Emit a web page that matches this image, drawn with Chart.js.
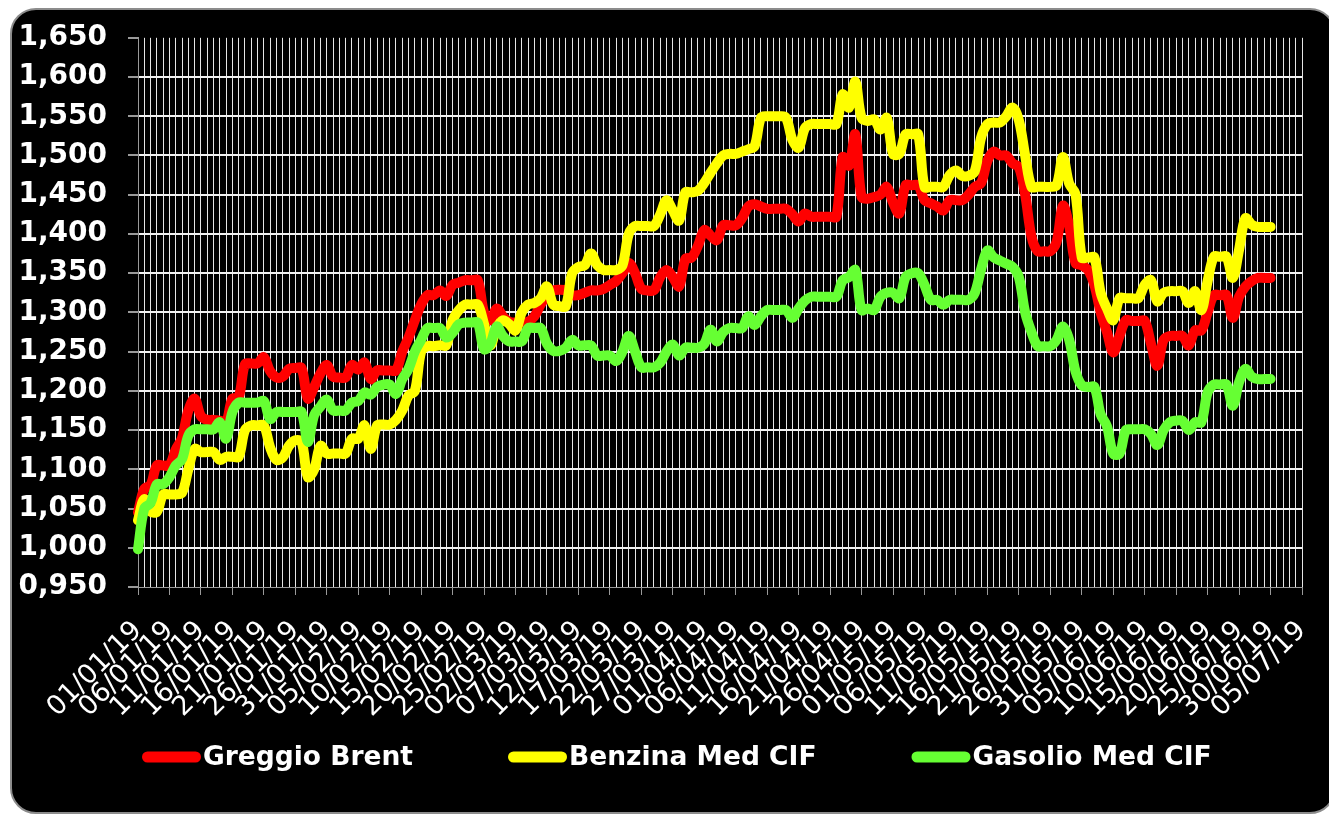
<!DOCTYPE html>
<html>
<head>
<meta charset="utf-8">
<title>Greggio Brent, Benzina e Gasolio Med CIF</title>
<script src="https://cdn.jsdelivr.net/npm/chart.js@4.4.1/dist/chart.umd.min.js"></script>
<style>
  html, body { margin: 0; padding: 0; background: #fff; overflow: hidden; }
  #frame {
    position: absolute; left: 10px; top: 8px; width: 1326px; height: 806px;
    box-sizing: border-box; background: #000;
    border: 2px solid #8c8c8c; border-radius: 26px;
  }
  #chart { position: absolute; left: 0; top: 0; }
</style>
</head>
<body>
<div id="frame"></div>
<canvas id="chart" width="1329" height="814"></canvas>
<script>
// daily dates, 01/01/19 .. 05/07/19 (labels shown every 5 days)
const dates = [
  '01/01/19','02/01/19','03/01/19','04/01/19','05/01/19','06/01/19','07/01/19','08/01/19','09/01/19','10/01/19',
  '11/01/19','12/01/19','13/01/19','14/01/19','15/01/19','16/01/19','17/01/19','18/01/19','19/01/19','20/01/19',
  '21/01/19','22/01/19','23/01/19','24/01/19','25/01/19','26/01/19','27/01/19','28/01/19','29/01/19','30/01/19','31/01/19',
  '01/02/19','02/02/19','03/02/19','04/02/19','05/02/19','06/02/19','07/02/19','08/02/19','09/02/19','10/02/19',
  '11/02/19','12/02/19','13/02/19','14/02/19','15/02/19','16/02/19','17/02/19','18/02/19','19/02/19','20/02/19',
  '21/02/19','22/02/19','23/02/19','24/02/19','25/02/19','26/02/19','27/02/19','28/02/19',
  '01/03/19','02/03/19','03/03/19','04/03/19','05/03/19','06/03/19','07/03/19','08/03/19','09/03/19','10/03/19',
  '11/03/19','12/03/19','13/03/19','14/03/19','15/03/19','16/03/19','17/03/19','18/03/19','19/03/19','20/03/19',
  '21/03/19','22/03/19','23/03/19','24/03/19','25/03/19','26/03/19','27/03/19','28/03/19','29/03/19','30/03/19','31/03/19',
  '01/04/19','02/04/19','03/04/19','04/04/19','05/04/19','06/04/19','07/04/19','08/04/19','09/04/19','10/04/19',
  '11/04/19','12/04/19','13/04/19','14/04/19','15/04/19','16/04/19','17/04/19','18/04/19','19/04/19','20/04/19',
  '21/04/19','22/04/19','23/04/19','24/04/19','25/04/19','26/04/19','27/04/19','28/04/19','29/04/19','30/04/19',
  '01/05/19','02/05/19','03/05/19','04/05/19','05/05/19','06/05/19','07/05/19','08/05/19','09/05/19','10/05/19',
  '11/05/19','12/05/19','13/05/19','14/05/19','15/05/19','16/05/19','17/05/19','18/05/19','19/05/19','20/05/19',
  '21/05/19','22/05/19','23/05/19','24/05/19','25/05/19','26/05/19','27/05/19','28/05/19','29/05/19','30/05/19','31/05/19',
  '01/06/19','02/06/19','03/06/19','04/06/19','05/06/19','06/06/19','07/06/19','08/06/19','09/06/19','10/06/19',
  '11/06/19','12/06/19','13/06/19','14/06/19','15/06/19','16/06/19','17/06/19','18/06/19','19/06/19','20/06/19',
  '21/06/19','22/06/19','23/06/19','24/06/19','25/06/19','26/06/19','27/06/19','28/06/19','29/06/19','30/06/19',
  '01/07/19','02/07/19','03/07/19','04/07/19','05/07/19'
];

const seriesNames = ['Greggio Brent', 'Benzina Med CIF', 'Gasolio Med CIF'];
const seriesColors = ['#ff0000', '#ffff00', '#66ff33'];

// index numbers (01/01/19 = 1,000 roughly), one value per day until 30/06
const brent = [
  1.045, 1.075, 1.08, 1.105, 1.105, 1.105, 1.125, 1.14, 1.175, 1.19,
  1.168, 1.163, 1.163, 1.162, 1.16, 1.19, 1.192, 1.234, 1.235, 1.235,
  1.243, 1.225, 1.217, 1.218, 1.228, 1.229, 1.229, 1.19, 1.205, 1.222,
  1.233, 1.218, 1.217, 1.217, 1.233, 1.227, 1.236, 1.215, 1.226, 1.226,
  1.226, 1.226, 1.25, 1.268, 1.29, 1.31, 1.322, 1.322, 1.328, 1.321,
  1.335, 1.338, 1.341, 1.341, 1.341, 1.30, 1.29, 1.305, 1.295, 1.288,
  1.287, 1.287, 1.288, 1.295, 1.31, 1.322, 1.328, 1.329, 1.328, 1.322,
  1.322, 1.325, 1.328, 1.328, 1.33, 1.335, 1.34, 1.35, 1.363, 1.35,
  1.33, 1.328, 1.328, 1.345, 1.354, 1.345, 1.333, 1.368, 1.37, 1.385,
  1.405, 1.398, 1.392, 1.411, 1.411, 1.411, 1.42, 1.435, 1.438, 1.435,
  1.432, 1.432, 1.432, 1.432, 1.425, 1.416, 1.426, 1.422, 1.422, 1.422,
  1.422, 1.422, 1.498, 1.487, 1.527, 1.447, 1.445, 1.447, 1.45, 1.46,
  1.44, 1.426, 1.462, 1.462, 1.462, 1.443, 1.439, 1.435, 1.43, 1.443,
  1.443, 1.443, 1.45, 1.46, 1.465, 1.493, 1.505, 1.5, 1.5, 1.49,
  1.485, 1.45, 1.397, 1.378, 1.378, 1.378, 1.39, 1.436, 1.41, 1.363,
  1.36, 1.354, 1.335, 1.30, 1.275, 1.249, 1.27, 1.29, 1.289, 1.289,
  1.289, 1.26, 1.232, 1.265, 1.27, 1.27, 1.27, 1.258, 1.277, 1.277,
  1.30, 1.322, 1.322, 1.322, 1.293, 1.32, 1.333, 1.34, 1.344, 1.344,
  1.344
];

const benzina = [
  1.035, 1.062, 1.046, 1.046, 1.068, 1.068, 1.068, 1.07, 1.10, 1.126,
  1.122, 1.122, 1.122, 1.112, 1.116, 1.116, 1.116, 1.15, 1.156, 1.156,
  1.156, 1.128, 1.112, 1.115, 1.13, 1.137, 1.135, 1.09, 1.10, 1.13,
  1.12, 1.12, 1.12, 1.12, 1.139, 1.139, 1.156, 1.126, 1.156, 1.157,
  1.157, 1.163, 1.175, 1.194, 1.2, 1.25, 1.257, 1.257, 1.258, 1.258,
  1.29, 1.303, 1.31, 1.31, 1.31, 1.285, 1.258, 1.28, 1.29, 1.285,
  1.277, 1.30, 1.31, 1.312, 1.318, 1.333, 1.31, 1.308, 1.308, 1.35,
  1.358, 1.36, 1.375, 1.36, 1.354, 1.354, 1.354, 1.36, 1.40, 1.41,
  1.41, 1.41, 1.41, 1.425, 1.443, 1.43, 1.417, 1.453, 1.453, 1.455,
  1.465, 1.478, 1.49, 1.50, 1.502, 1.502, 1.505, 1.508, 1.512, 1.548,
  1.55, 1.55, 1.55, 1.548, 1.52, 1.51, 1.535, 1.54, 1.54, 1.54,
  1.54, 1.54, 1.578, 1.561, 1.594, 1.548, 1.544, 1.546, 1.533, 1.548,
  1.502, 1.502, 1.527, 1.527, 1.527, 1.46, 1.46, 1.46, 1.46, 1.475,
  1.481, 1.474, 1.474, 1.48, 1.523, 1.54, 1.542, 1.542, 1.55, 1.561,
  1.545, 1.50, 1.46, 1.46, 1.46, 1.46, 1.462, 1.498, 1.464, 1.451,
  1.37, 1.37, 1.37, 1.325, 1.305, 1.29, 1.318, 1.318, 1.318, 1.318,
  1.335, 1.341, 1.314, 1.325, 1.327, 1.327, 1.327, 1.312, 1.327, 1.303,
  1.34, 1.371, 1.371, 1.371, 1.344, 1.38, 1.42, 1.412, 1.409, 1.409,
  1.409
];

const gasolio = [
  0.998, 1.05, 1.057, 1.081, 1.081, 1.09, 1.105, 1.113, 1.143, 1.151,
  1.151, 1.151, 1.151, 1.16, 1.139, 1.173, 1.185, 1.185, 1.185, 1.185,
  1.187, 1.164, 1.173, 1.173, 1.173, 1.173, 1.173, 1.135, 1.169, 1.18,
  1.189, 1.175, 1.175, 1.175, 1.185, 1.187, 1.198, 1.195, 1.205, 1.208,
  1.208, 1.196, 1.215, 1.228, 1.25, 1.265, 1.28, 1.28, 1.28, 1.268,
  1.274, 1.285, 1.287, 1.287, 1.287, 1.253, 1.26, 1.282, 1.27, 1.263,
  1.263, 1.263, 1.28, 1.28, 1.28, 1.26, 1.251, 1.251, 1.255, 1.265,
  1.258, 1.258, 1.258, 1.245, 1.245, 1.245, 1.238, 1.25, 1.27, 1.25,
  1.23, 1.23, 1.23, 1.236, 1.25, 1.259, 1.245, 1.255, 1.255, 1.255,
  1.26, 1.278, 1.263, 1.275, 1.28, 1.28, 1.28, 1.295, 1.284, 1.295,
  1.303, 1.303, 1.303, 1.303, 1.293, 1.305, 1.315, 1.32, 1.32, 1.32,
  1.32, 1.32, 1.341, 1.345, 1.354, 1.303, 1.305, 1.303, 1.32, 1.325,
  1.325, 1.318, 1.345, 1.35, 1.35, 1.335, 1.316, 1.316, 1.31, 1.316,
  1.316, 1.316, 1.316, 1.325, 1.355, 1.379, 1.37, 1.366, 1.362, 1.358,
  1.345, 1.30, 1.275, 1.257, 1.257, 1.257, 1.265, 1.282, 1.265, 1.225,
  1.207, 1.205, 1.205, 1.17, 1.155, 1.12, 1.12, 1.15, 1.151, 1.151,
  1.151, 1.145, 1.131, 1.15, 1.16, 1.162, 1.162, 1.15, 1.16, 1.16,
  1.198, 1.208, 1.208, 1.208, 1.181, 1.211, 1.228, 1.218, 1.215, 1.215,
  1.215
];

const yMin = 0.95;
const yMax = 1.65;
const yStep = 0.05;

const FONT = "'DejaVu Sans', Verdana, sans-serif";
const GRAY = '#9a9a9a';

// legend drawn by hand: Excel-style wide gaps between the items
const lineLegend = {
  id: 'lineLegend',
  afterDraw(chart, args, opts) {
    const { ctx, chartArea } = chart;
    ctx.save();
    ctx.font = `bold ${opts.fontSize}px ${FONT}`;
    ctx.textBaseline = 'middle';
    ctx.textAlign = 'left';
    let x = chartArea.left + opts.offset;
    chart.data.datasets.forEach(ds => {
      ctx.strokeStyle = ds.borderColor;
      ctx.lineWidth = opts.markerHeight;
      ctx.lineCap = 'round';
      ctx.beginPath();
      ctx.moveTo(x + opts.markerHeight / 2, opts.y);
      ctx.lineTo(x + opts.markerWidth - opts.markerHeight / 2, opts.y);
      ctx.stroke();
      const tx = x + opts.markerWidth + opts.textGap;
      ctx.fillStyle = '#ffffff';
      ctx.fillText(ds.label, tx, opts.y + 1);
      x = tx + ctx.measureText(ds.label).width + opts.itemGap;
    });
    ctx.restore();
  }
};

const ctx = document.getElementById('chart');

new Chart(ctx, {
  type: 'line',
  data: {
    labels: dates,
    datasets: [brent, benzina, gasolio].map((vals, i) => ({
      label: seriesNames[i],
      data: vals,
      borderColor: seriesColors[i],
      backgroundColor: seriesColors[i],
      borderWidth: 10,
      pointRadius: 0,
      tension: 0.35,
      borderCapStyle: 'round',
      borderJoinStyle: 'round',
      order: 3 - i // later series drawn on top
    }))
  },
  plugins: [lineLegend],
  options: {
    responsive: false,
    animation: false,
    layout: { padding: { left: 12, right: 27, top: 33, bottom: 78 } },
    plugins: {
      tooltip: { enabled: false },
      legend: { display: false },
      lineLegend: {
        y: 757, offset: 4, fontSize: 26.5,
        markerWidth: 59, markerHeight: 11, textGap: 2, itemGap: 95
      }
    },
    scales: {
      x: {
        afterFit(scale) {
          scale.height = 814 - 78 - 587;
          // rotated labels hang left of their ticks only; keep the plot wide
          scale.paddingLeft = 0;
          scale.paddingRight = 0;
        },
        grid: {
          color: c => c.index === 0 ? 'rgba(0,0,0,0)' : '#e6e6e6',
          lineWidth: 1,
          tickLength: 8,
          tickColor: c => c.index % 5 === 0 ? GRAY : 'rgba(0,0,0,0)'
        },
        border: { color: GRAY, width: 1 },
        ticks: {
          autoSkip: false,
          maxRotation: 45,
          minRotation: 45,
          padding: 20,
          color: '#fff',
          font: { family: FONT, size: 27 },
          callback(v, i) { return i % 5 === 0 ? this.getLabelForValue(v) : ''; }
        }
      },
      y: {
        min: yMin,
        max: yMax,
        afterFit(scale) { scale.width = 138 - 12; },
        grid: {
          color: c => (c.tick && (c.tick.value > yMax - 0.001 || c.tick.value < yMin + 0.001)) ? 'rgba(0,0,0,0)' : '#f2f2f2',
          lineWidth: 2,
          tickLength: 10,
          tickColor: GRAY
        },
        border: { color: GRAY, width: 1 },
        ticks: {
          stepSize: yStep,
          padding: 21,
          color: '#fff',
          font: { family: FONT, size: 28, weight: 'bold' },
          callback: v => v.toFixed(3).replace('.', ',')
        }
      }
    }
  }
});
</script>
</body>
</html>
